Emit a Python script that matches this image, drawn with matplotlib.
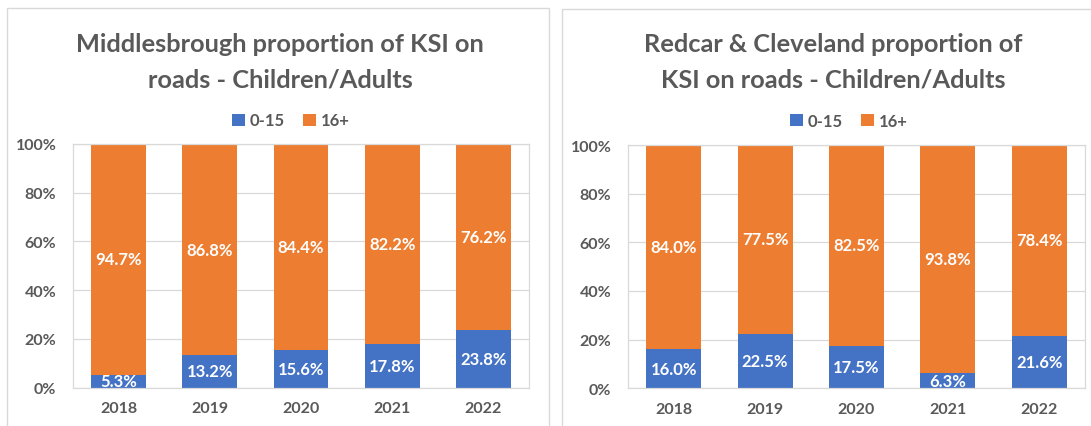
import matplotlib
matplotlib.use('Agg')
import matplotlib.pyplot as plt
from matplotlib.patches import Rectangle

plt.rcParams['font.family'] = ['Lato', 'DejaVu Sans']

years = ['2018', '2019', '2020', '2021', '2022']
mbro_child = [5.3, 13.2, 15.6, 17.8, 23.8]
mbro_adult = [94.7, 86.8, 84.4, 82.2, 76.2]
rc_child = [16.0, 22.5, 17.5, 6.3, 21.6]
rc_adult = [84.0, 77.5, 82.5, 93.8, 78.4]
series_names = ['0-15', '16+']

BLUE = '#4472C4'
ORANGE = '#ED7D31'
GREY = '#595959'
LIGHT = '#D9D9D9'

W, H = 1091, 427


def fx(px):
    return px / W


def fy(py):
    return 1 - py / H


def draw_panel(fig, rect, child, adult, title_lines, title_x, legend_xy):
    ax = fig.add_axes(rect)
    x = range(len(years))
    b1 = ax.bar(x, child, width=0.6, color=BLUE, label=series_names[0], zorder=2)
    b2 = ax.bar(x, adult, width=0.6, bottom=child, color=ORANGE, label=series_names[1], zorder=2)
    for bars in (b1, b2):
        ax.bar_label(bars, fmt='%.1f%%', label_type='center', color='white',
                     fontweight='bold', fontsize=12, clip_on=True)

    ax.set_xlim(-0.5, len(years) - 0.5)
    ax.set_ylim(0, 100)
    ax.set_yticks(range(0, 101, 20))
    ax.set_yticklabels([f'{v}%' for v in range(0, 101, 20)])
    ax.set_xticks(list(x))
    ax.set_xticklabels(years)
    ax.tick_params(length=0, colors=GREY, labelsize=11.5)
    ax.tick_params(axis='y', pad=12)
    ax.tick_params(axis='x', pad=10)
    for lbl in ax.get_xticklabels() + ax.get_yticklabels():
        lbl.set_fontweight('bold')
    ax.grid(axis='y', color=LIGHT, lw=0.9)
    ax.set_axisbelow(True)
    for sp in ax.spines.values():
        sp.set_color(LIGHT)
        sp.set_linewidth(0.9)

    fig.text(fx(title_x), fy(52), title_lines[0], ha='center', va='baseline',
             fontsize=18.3, fontweight='bold', color=GREY)
    fig.text(fx(title_x), fy(87), title_lines[1], ha='center', va='baseline',
             fontsize=18.3, fontweight='bold', color=GREY)

    leg = ax.legend(loc='center', bbox_to_anchor=(fx(legend_xy[0]), fy(legend_xy[1])),
                    bbox_transform=fig.transFigure, ncol=2, frameon=False,
                    handlelength=0.75, handleheight=0.75, handletextpad=0.3,
                    columnspacing=1.1, fontsize=12)
    for t in leg.get_texts():
        t.set_color(GREY)
        t.set_fontweight('bold')
    return ax


fig = plt.figure(figsize=(W / 100, H / 100), dpi=100)

# panel borders
fig.add_artist(Rectangle((fx(7), -0.1), fx(549 - 7), fy(9) + 0.1, transform=fig.transFigure,
                         fill=False, ec=LIGHT, lw=1))
fig.add_artist(Rectangle((fx(562), -0.1), fx(1200 - 562), fy(10) + 0.1, transform=fig.transFigure,
                         fill=False, ec=LIGHT, lw=1))

draw_panel(fig, [fx(73), fy(388.5), fx(529 - 73), (388.5 - 145) / H],
           mbro_child, mbro_adult,
           ['Middlesbrough proportion of KSI on', 'roads - Children/Adults'],
           280, (291, 121.5))
draw_panel(fig, [fx(628), fy(389.3), fx(1085 - 628), (389.3 - 146) / H],
           rc_child, rc_adult,
           ['Redcar & Cleveland proportion of', 'KSI on roads - Children/Adults'],
           833.5, (849, 122))

fig.savefig('out.png', dpi=100)
